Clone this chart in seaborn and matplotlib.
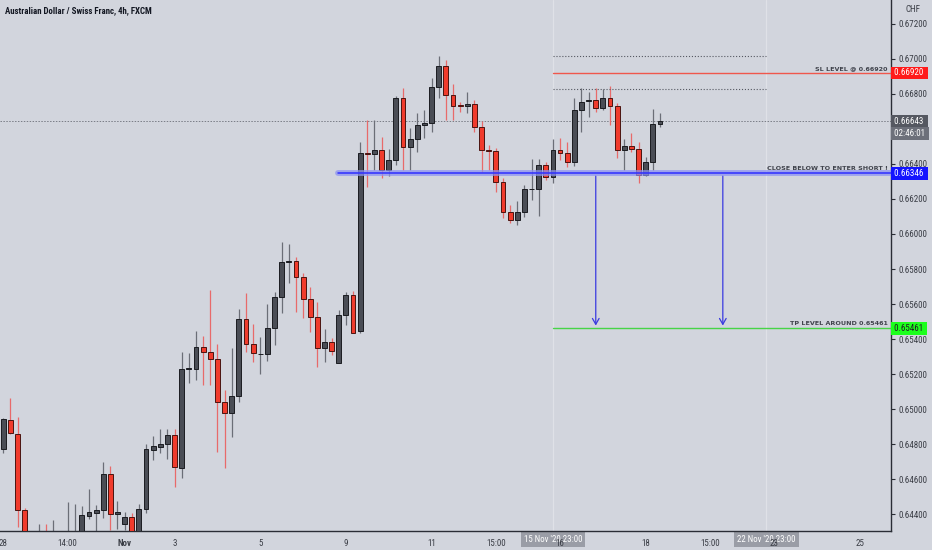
import numpy as np
import pandas as pd
import matplotlib
matplotlib.use("Agg")
import matplotlib.pyplot as plt
from matplotlib import font_manager as fm
import seaborn as sns

# ---------------- data (AUD/CHF 4h) ----------------
opens = [0.64772, 0.64937, 0.64857, 0.64423, 0.64223, 0.64194, 0.64263, 0.64194, 0.64223, 0.64206,
         0.64223, 0.64252, 0.64390, 0.64408, 0.64423, 0.64629, 0.64402, 0.64345, 0.64383, 0.64280,
         0.64430, 0.64766, 0.64785, 0.64798, 0.64850, 0.64665, 0.65229, 0.65230, 0.65353, 0.65324,
         0.65286, 0.65040, 0.64979, 0.65073, 0.65513, 0.65372, 0.65314, 0.65313, 0.65463, 0.65642,
         0.65840, 0.65844, 0.65753, 0.65627, 0.65524, 0.65347, 0.65381, 0.65261, 0.65537, 0.65651,
         0.65446, 0.66461, 0.66455, 0.66480, 0.66366, 0.66421, 0.66775, 0.66495, 0.66543, 0.66623,
         0.66636, 0.66842, 0.66960, 0.66794, 0.66735, 0.66730, 0.66745, 0.66613, 0.66478, 0.66473,
         0.66295, 0.66124, 0.66080, 0.66124, 0.66255, 0.66257, 0.66394, 0.66327, 0.66480, 0.66461,
         0.66413, 0.66709, 0.66760, 0.66766, 0.66722, 0.66775, 0.66733, 0.66480, 0.66505, 0.66487,
         0.66337, 0.66410, 0.66627]
highs = [0.64949, 0.65063, 0.64954, 0.64434, 0.64252, 0.64343, 0.64343, 0.64366, 0.64292, 0.64469,
         0.64457, 0.64446, 0.64543, 0.64452, 0.64699, 0.64674, 0.64474, 0.64412, 0.64408, 0.64457,
         0.64800, 0.64846, 0.64886, 0.64886, 0.64886, 0.65328, 0.65320, 0.65448, 0.65417, 0.65680,
         0.65372, 0.65109, 0.65347, 0.65570, 0.65661, 0.65486, 0.65413, 0.65600, 0.65670, 0.65956,
         0.65943, 0.65870, 0.65776, 0.65699, 0.65613, 0.65457, 0.65404, 0.65566, 0.65670, 0.65674,
         0.66524, 0.66651, 0.66651, 0.66556, 0.66484, 0.66790, 0.66833, 0.66607, 0.66690, 0.66709,
         0.66893, 0.67017, 0.66994, 0.66855, 0.66756, 0.66810, 0.66766, 0.66646, 0.66509, 0.66493,
         0.66318, 0.66166, 0.66189, 0.66280, 0.66427, 0.66427, 0.66413, 0.66543, 0.66547, 0.66527,
         0.66775, 0.66833, 0.66813, 0.66833, 0.66827, 0.66846, 0.66749, 0.66541, 0.66575, 0.66527,
         0.66438, 0.66713, 0.66693]
lows = [0.64749, 0.64857, 0.64326, 0.64166, 0.64080, 0.64137, 0.64137, 0.64149, 0.64166, 0.64166,
        0.64183, 0.64223, 0.64372, 0.64297, 0.64376, 0.64309, 0.64314, 0.64309, 0.64252, 0.64252,
        0.64408, 0.64709, 0.64749, 0.64714, 0.64554, 0.64606, 0.65147, 0.65166, 0.65137, 0.65137,
        0.64756, 0.64665, 0.64842, 0.65042, 0.65328, 0.65270, 0.65200, 0.65274, 0.65366, 0.65550,
        0.65718, 0.65556, 0.65518, 0.65442, 0.65238, 0.65270, 0.65309, 0.65261, 0.65480, 0.65434,
        0.65434, 0.66270, 0.66366, 0.66322, 0.66333, 0.66394, 0.66366, 0.66366, 0.66470, 0.66547,
        0.66585, 0.66775, 0.66651, 0.66651, 0.66699, 0.66690, 0.66585, 0.66356, 0.66366, 0.66238,
        0.66090, 0.66061, 0.66051, 0.66099, 0.66194, 0.66105, 0.66309, 0.66290, 0.66423, 0.66385,
        0.66390, 0.66585, 0.66670, 0.66699, 0.66709, 0.66623, 0.66433, 0.66366, 0.66470, 0.66290,
        0.66331, 0.66366, 0.66610]
closes = [0.64943, 0.64863, 0.64423, 0.64223, 0.64137, 0.64252, 0.64183, 0.64263, 0.64252, 0.64274,
          0.64280, 0.64394, 0.64410, 0.64423, 0.64629, 0.64400, 0.64410, 0.64383, 0.64280, 0.64430,
          0.64770, 0.64789, 0.64798, 0.64850, 0.64666, 0.65227, 0.65230, 0.65353, 0.65324, 0.65286,
          0.65040, 0.64979, 0.65073, 0.65513, 0.65372, 0.65318, 0.65317, 0.65463, 0.65642, 0.65840,
          0.65844, 0.65753, 0.65627, 0.65524, 0.65347, 0.65381, 0.65333, 0.65537, 0.65651, 0.65436,
          0.66461, 0.66457, 0.66480, 0.66366, 0.66421, 0.66775, 0.66495, 0.66543, 0.66623, 0.66636,
          0.66842, 0.66960, 0.66794, 0.66733, 0.66731, 0.66745, 0.66613, 0.66480, 0.66474, 0.66295,
          0.66127, 0.66080, 0.66124, 0.66257, 0.66257, 0.66394, 0.66327, 0.66480, 0.66461, 0.66413,
          0.66709, 0.66756, 0.66762, 0.66722, 0.66775, 0.66733, 0.66480, 0.66505, 0.66487, 0.66337,
          0.66410, 0.66627, 0.66643]

xtick_pos = [0, 9, 17, 24, 36, 48, 60, 69, 78, 90, 99, 108, 120]
xtick_labels = ["28", "14:00", "Nov", "3", "5", "9", "11", "15:00", "16", "18", "15:00", "23", "25"]
ytick_values = [0.644, 0.646, 0.648, 0.650, 0.652, 0.654, 0.656, 0.658,
                0.660, 0.662, 0.664, 0.666, 0.668, 0.670, 0.672]
hidden_ytick = 0.666   # covered by the price tags in the reference

sl_level = 0.66920
entry_level = 0.66346
tp_level = 0.65461
last_price = 0.66643
range_top = 0.67019
range_bottom = 0.66829
range_start = 77.0      # 15 Nov '20 23:00
range_end = 106.9       # 22 Nov '20 23:00
entry_start = 46.9
arrow_x = [83.0, 100.8]
countdown = "02:46:01"
title = "Australian Dollar / Swiss Franc, 4h, FXCM"
caption_sl = "SL LEVEL @ 0.66920"
caption_entry = "CLOSE BELOW TO ENTER SHORT !"
caption_tp = "TP LEVEL AROUND 0.65461"

# ---------------- style ----------------
BG = "#d2d5dd"
sns.set_theme(style="white", rc={"axes.facecolor": BG, "figure.facecolor": BG})

# pick a narrow font if one is installed
def pick_narrow():
    prefs = [("Liberation Sans Narrow", None), ("Roboto Condensed", None),
             ("DejaVu Sans", "condensed"), ("Noto Sans", "condensed"),
             ("Open Sans", "condensed"), ("Roboto", "condensed"),
             ("Noto Sans", "semi-condensed"), ("Open Sans", "semi-condensed")]
    for name, st in prefs:
        for f in fm.fontManager.ttflist:
            if f.name == name and (st is None or str(f.stretch) == st):
                return name, str(f.stretch)
    return "DejaVu Sans", "normal"

NARROW, STRETCH = pick_narrow()
plt.rcParams['font.family'] = [NARROW, 'DejaVu Sans']
plt.rcParams['font.stretch'] = STRETCH

df = pd.DataFrame({"open": opens, "high": highs, "low": lows, "close": closes})
df["idx"] = np.arange(len(df))
df["up"] = df["close"] >= df["open"]

XMIN, XMAX = -0.46, 124.36
YMIN, YMAX = 0.643029, 0.673371

fig = plt.figure(figsize=(9.32, 5.5), dpi=100, facecolor=BG)
renderer = fig.canvas.get_renderer()

def fit_size(text, target_px, lo, hi, weight="normal", family=None, stretch=None):
    kw = {}
    if family:
        kw["family"] = family
    if stretch:
        kw["fontstretch"] = stretch
    t = fig.text(0, 0, text, fontsize=10, fontweight=weight, **kw)
    w = t.get_window_extent(renderer=renderer).width
    t.remove()
    return float(np.clip(10 * target_px / w, lo, hi))

FS_TICK = fit_size("0.67200", 28.5, 6.4, 7.6)
FS_TITLE = fit_size(title, 148, 6.2, 8.0, "bold")
FS_CAP = fit_size(caption_entry, 116, 4.6, 7.0, "bold", ["DejaVu Sans"], "normal")
FS_DATE = fit_size("15 Nov '20 23:00", 58, 5.6, 7.4)

ax = fig.add_axes([0, 19 / 550, 891 / 932, 531 / 550])
ax.set_facecolor(BG)
ax.set_xlim(XMIN, XMAX)
ax.set_ylim(YMIN, YMAX)

# faint vertical markers of the date range
for xv in [range_start, range_end]:
    ax.axvline(xv, color="#dfe1e7", lw=0.9, zorder=0.5)

# current price dotted line
ax.axhline(last_price, color="#7a7d86", lw=0.7, ls=(0, (1.5, 1.5)), zorder=1)

# candles
up = df[df["up"]]
dn = df[~df["up"]]
ax.vlines(up["idx"], up["low"], up["high"], color="#6b6e77", lw=0.9, zorder=2)
ax.vlines(dn["idx"], dn["low"], dn["high"], color="#e86a6a", lw=0.9, zorder=2)
min_h = 0.00003
ax.bar(up["idx"], np.maximum(up["close"] - up["open"], min_h), bottom=up["open"], width=0.68,
       color="#4a4d55", edgecolor="#1b1c21", linewidth=0.7, zorder=3)
ax.bar(dn["idx"], np.maximum(dn["open"] - dn["close"], min_h), bottom=dn["close"], width=0.68,
       color="#f03b2c", edgecolor="#4a1410", linewidth=0.7, zorder=3)

# level lines (seaborn)
sns.lineplot(x=[range_start, range_end], y=[range_top, range_top], ax=ax, color="#555861",
             lw=0.8, linestyle=":", zorder=4, legend=False)
sns.lineplot(x=[range_start, range_end], y=[range_bottom, range_bottom], ax=ax, color="#555861",
             lw=0.8, linestyle=":", zorder=4, legend=False)
sns.lineplot(x=[range_start, XMAX], y=[sl_level, sl_level], ax=ax, color="#f0574c",
             lw=1.0, zorder=4, legend=False)
sns.lineplot(x=[range_start, XMAX], y=[tp_level, tp_level], ax=ax, color="#47d447",
             lw=1.0, zorder=4, legend=False)
sns.lineplot(x=[entry_start, XMAX], y=[entry_level, entry_level], ax=ax, color="#8c92f2",
             lw=4.2, alpha=0.75, zorder=4, legend=False)
sns.lineplot(x=[entry_start, XMAX], y=[entry_level, entry_level], ax=ax, color="#2f2fff",
             lw=1.1, zorder=5, legend=False)

# arrows
for xa in arrow_x:
    ax.annotate("", xy=(xa, tp_level), xytext=(xa, entry_level),
                arrowprops=dict(arrowstyle="->,head_length=0.35,head_width=0.2",
                                color="#3a3ae0", lw=0.9), zorder=6)

# level captions
lab_kw = dict(transform=ax.get_yaxis_transform(), ha="right", va="bottom",
              fontsize=FS_CAP, fontweight="bold", color="#40434c", zorder=7,
              family=["DejaVu Sans"], fontstretch="normal")
ax.text(0.996, sl_level + 0.00008, caption_sl, **lab_kw)
ax.text(0.996, entry_level + 0.00013, caption_entry, **lab_kw)
ax.text(0.996, tp_level + 0.00011, caption_tp, **lab_kw)

# axes styling
for s in ["top", "left"]:
    ax.spines[s].set_visible(False)
for s in ["right", "bottom"]:
    ax.spines[s].set_color("#2a2d35")
    ax.spines[s].set_linewidth(1.0)
ax.yaxis.tick_right()
ax.set_yticks(ytick_values)
ax.set_yticklabels(["" if abs(v - hidden_ytick) < 1e-9 else f"{v:.5f}" for v in ytick_values])
ax.set_xticks(xtick_pos)
ax.set_xticklabels(xtick_labels)
ax.tick_params(axis="both", direction="out", length=3, width=0.8, color="#2a2d35",
               labelsize=FS_TICK, labelcolor="#3a3d45", pad=2.5)
ax.tick_params(axis="x", pad=3)
for t in ax.get_xticklabels():
    if t.get_text() == "Nov":
        t.set_fontweight("bold")
ax.set_xlabel("")
ax.set_ylabel("")
ax.grid(False)

# price tags on the right axis
def tag(price, text, fc, tc, dy=0.0):
    ax.text(1.0015, price + dy, " " + text + " ", transform=ax.get_yaxis_transform(),
            ha="left", va="center", fontsize=FS_TICK, color=tc, zorder=10, clip_on=False,
            bbox=dict(boxstyle="square,pad=0.2", fc=fc, ec="none"))

tag(sl_level, "0.66920", "#ff1a1a", "white")
tag(last_price, "0.66643", "#555861", "white")
tag(last_price - 0.00068, countdown, "#6d707a", "white")
tag(entry_level, "0.66346", "#1414ff", "white")
tag(tp_level, "0.65461", "#1cff1c", "#1c1d22")

fig.text(905 / 932, 1 - 10 / 550, "CHF", ha="left", va="center", fontsize=FS_TICK, color="#3a3d45")

# date range boxes at the bottom (drawn under the tick labels)
def date_box(xi, text):
    xf = (xi - XMIN) / (XMAX - XMIN) * (891 / 932)
    fig.text(xf, 1 - 539.5 / 550, text, ha="center", va="center", fontsize=FS_DATE, color="white",
             zorder=-1, bbox=dict(boxstyle="square,pad=0.35", fc="#9a9da6", ec="none"))

date_box(range_start, "15 Nov '20 23:00")
date_box(range_end, "22 Nov '20 23:00")

# title
fig.text(5 / 932, 1 - 11 / 550, title, ha="left", va="center", fontsize=FS_TITLE,
         fontweight="bold", color="#131722")

fig.savefig("out.png", dpi=100, facecolor=BG)
